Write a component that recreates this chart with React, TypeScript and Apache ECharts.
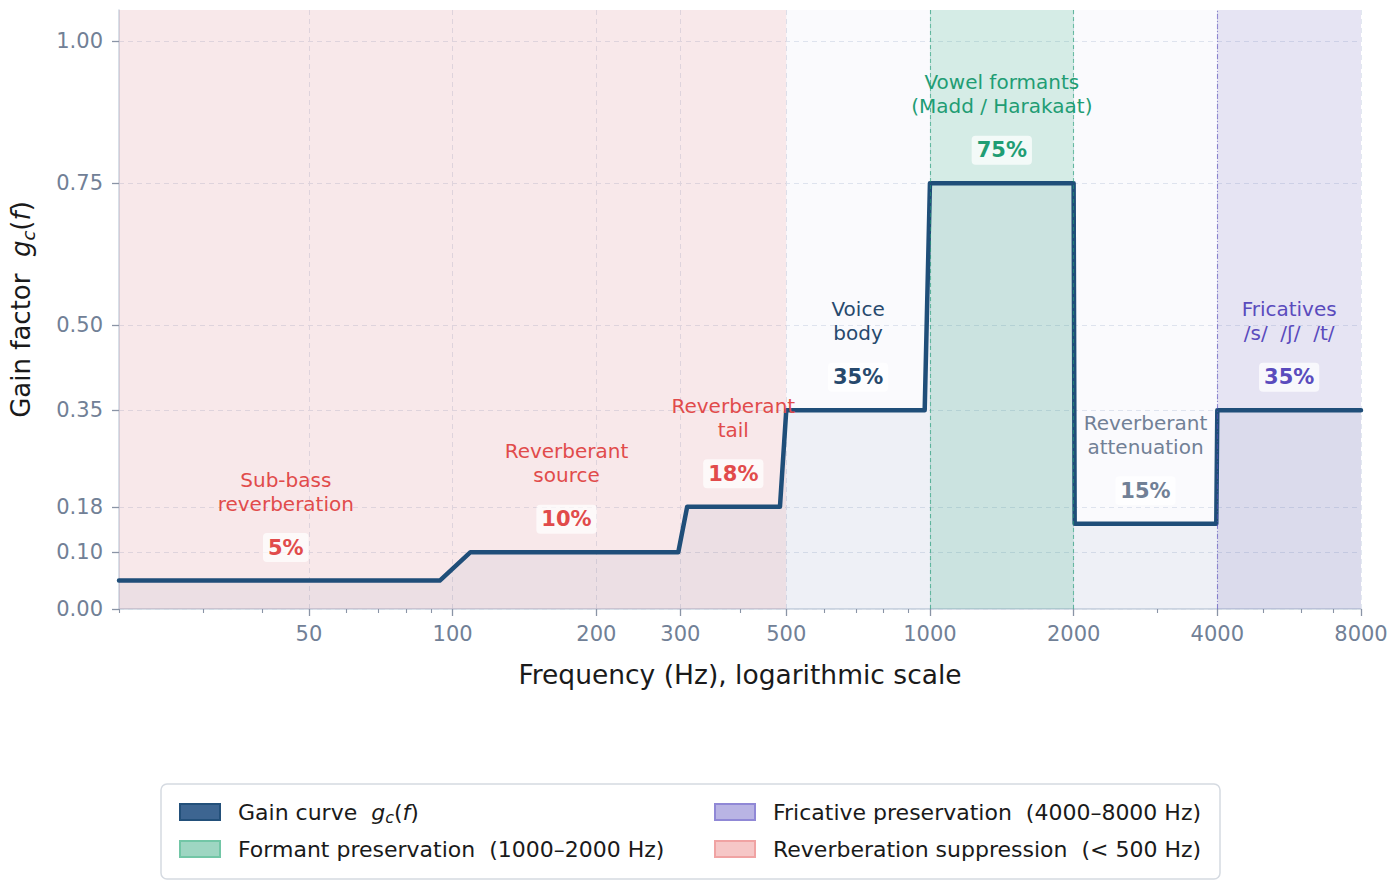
import React, { useEffect, useRef } from 'react';
import * as echarts from 'echarts';

// ---- data ----
const gainFreq = [20, 94, 109, 297, 310, 485, 500, 975, 1000, 2000, 2010, 3980, 4000, 8000];
const gainValue = [0.05, 0.05, 0.10, 0.10, 0.18, 0.18, 0.35, 0.35, 0.75, 0.75, 0.15, 0.15, 0.35, 0.35];

const majorTicks = [50, 100, 200, 300, 500, 1000, 2000, 4000, 8000];
const minorTicks = [20, 30, 40, 60, 70, 80, 90, 400, 600, 700, 800, 900, 3000, 5000, 6000, 7000];
const yTicks = [0, 0.10, 0.18, 0.35, 0.50, 0.75, 1.00];

const bandEdges = [20, 100, 300, 500, 1000, 2000, 4000, 8000];
const annoLevel = [0.05, 0.10, 0.18, 0.35, 0.75, 0.15, 0.35];
const annoTitle = [
  'Sub-bass\nreverberation',
  'Reverberant\nsource',
  'Reverberant\ntail',
  'Voice\nbody',
  'Vowel formants\n(Madd / Harakaat)',
  'Reverberant\nattenuation',
  'Fricatives\n/s/  /ʃ/  /t/',
];
const annoTone = ['red', 'red', 'red', 'navy', 'green', 'gray', 'purple'];

const F_MIN = 20;
const F_MAX = 8000;
const Y_MAX = 1.055;

const NAME_GAIN = 'Gain curve';
const NAME_FORMANT = 'Formant preservation  (1000–2000 Hz)';
const NAME_FRIC = 'Fricative preservation  (4000–8000 Hz)';
const NAME_REVERB = 'Reverberation suppression  (< 500 Hz)';

// ---- styles ----
const FONT = 'DejaVu Sans';
const toneColor: Record<string, string> = {
  red: '#e14b4b',
  navy: '#27496d',
  green: '#1f9d74',
  gray: '#718096',
  purple: '#5a4bbd',
};

export default function App() {
  const ref = useRef<HTMLDivElement>(null);

  useEffect(() => {
    if (!ref.current) return;
    const chart = echarts.init(ref.current, undefined, { renderer: 'svg' });

    const annoFreq = annoLevel.map((_, i) => Math.sqrt(bandEdges[i] * bandEdges[i + 1]));

    const richText = (size: number, lh: number, sub: number, subLh: number) => ({
      n: { fontFamily: FONT, fontSize: size, color: '#1a1a1a', lineHeight: lh },
      i: { fontFamily: FONT, fontSize: size, color: '#1a1a1a', fontStyle: 'italic', lineHeight: lh },
      s: {
        fontFamily: FONT,
        fontSize: sub,
        color: '#1a1a1a',
        fontStyle: 'italic',
        lineHeight: subLh,
        verticalAlign: 'bottom',
      },
    });

    const legendFormatter = (name: string) =>
      name === NAME_GAIN ? `{n|${name}  }{i|g}{s|c}{n|(}{i|f}{n|)}` : `{n|${name}}`;

    const legendBase = {
      orient: 'vertical',
      top: 799,
      itemWidth: 40,
      itemHeight: 16,
      itemGap: 11,
      padding: 0,
      selectedMode: false,
      icon: 'rect',
      formatter: legendFormatter,
      textStyle: {
        fontFamily: FONT,
        fontSize: 22,
        color: '#1a1a1a',
        lineHeight: 26,
        padding: [0, 0, 0, 13],
        rich: richText(22, 26, 16, 12),
      },
    };

    const option: any = {
      animation: false,
      backgroundColor: '#ffffff',
      textStyle: { fontFamily: FONT },
      grid: { left: 117, right: 35, top: 10, bottom: 280, containLabel: false },
      graphic: [
        {
          type: 'rect',
          z: 0,
          shape: { x: 161, y: 784, width: 1059, height: 95, r: 6 },
          style: { fill: '#ffffff', stroke: '#d5dae1', lineWidth: 1.5 },
        },
      ],
      legend: [
        { ...legendBase, left: 179, data: [NAME_GAIN, NAME_FORMANT] },
        { ...legendBase, left: 714, data: [NAME_FRIC, NAME_REVERB] },
      ],
      xAxis: [
        {
          type: 'log',
          logBase: 10,
          min: F_MIN,
          max: F_MAX,
          position: 'bottom',
          axisLine: { show: true, onZero: false, lineStyle: { color: '#cbd5e0', width: 1.5 } },
          axisTick: { show: false },
          axisLabel: { show: false },
          splitLine: { show: false },
          minorTick: { show: false },
          minorSplitLine: { show: false },
          name: 'Frequency (Hz), logarithmic scale',
          nameLocation: 'middle',
          nameGap: 52,
          nameTextStyle: { fontFamily: FONT, fontSize: 26.5, color: '#1a1a1a' },
        },
        {
          type: 'value',
          min: Math.log10(F_MIN),
          max: Math.log10(F_MAX),
          position: 'bottom',
          axisLine: { show: false, onZero: false },
          axisTick: {
            show: true,
            customValues: majorTicks.map(Math.log10),
            length: 7,
            lineStyle: { color: '#8a94a6', width: 1.3 },
          },
          axisLabel: {
            show: true,
            customValues: majorTicks.map(Math.log10),
            formatter: (v: number) => String(Math.round(Math.pow(10, v))),
            color: '#718096',
            fontFamily: FONT,
            fontSize: 21,
            margin: 14,
          },
          splitLine: { show: true, lineStyle: { color: '#e2e8f0', type: [5, 4], width: 1 } },
        },
        {
          type: 'value',
          min: Math.log10(F_MIN),
          max: Math.log10(F_MAX),
          position: 'bottom',
          axisLine: { show: false, onZero: false },
          axisTick: {
            show: true,
            customValues: minorTicks.map(Math.log10),
            length: 4,
            lineStyle: { color: '#8a94a6', width: 1.1 },
          },
          axisLabel: { show: false },
          splitLine: { show: false },
        },
      ],
      yAxis: {
        type: 'value',
        min: 0,
        max: Y_MAX,
        axisLine: { show: true, onZero: false, lineStyle: { color: '#cbd5e0', width: 1.5 } },
        axisTick: {
          show: true,
          customValues: yTicks,
          length: 7,
          lineStyle: { color: '#8a94a6', width: 1.3 },
        },
        axisLabel: {
          show: true,
          customValues: yTicks,
          formatter: (v: number) => v.toFixed(2),
          color: '#718096',
          fontFamily: FONT,
          fontSize: 21,
          margin: 16,
        },
        splitLine: { show: true, lineStyle: { color: '#e2e8f0', type: [5, 4], width: 1 } },
        name: '{n|Gain factor  }{i|g}{s|c}{n|(}{i|f}{n|)}',
        nameLocation: 'middle',
        nameGap: 82,
        nameTextStyle: { rich: richText(26, 32, 18, 16) },
      },
      series: [
        {
          type: 'scatter',
          name: NAME_REVERB,
          data: [],
          z: 1,
          itemStyle: { color: '#f6c7c7', borderColor: '#f0a3a3', borderWidth: 1.5, opacity: 1 },
          markArea: {
            silent: true,
            itemStyle: { color: 'rgba(185,25,45,0.10)', opacity: 1 },
            data: [[{ xAxis: F_MIN }, { xAxis: 500 }]],
          },
        },
        {
          type: 'scatter',
          name: 'neutral',
          data: [],
          z: 1,
          markArea: {
            silent: true,
            itemStyle: { color: 'rgba(115,135,195,0.04)', opacity: 1 },
            data: [
              [{ xAxis: 500 }, { xAxis: 1000 }],
              [{ xAxis: 2000 }, { xAxis: 4000 }],
            ],
          },
        },
        {
          type: 'scatter',
          name: NAME_FORMANT,
          data: [],
          z: 1,
          itemStyle: { color: '#9ed6c2', borderColor: '#72c6a6', borderWidth: 1.5, opacity: 1 },
          markArea: {
            silent: true,
            itemStyle: { color: 'rgba(22,149,116,0.18)', opacity: 1 },
            data: [[{ xAxis: 1000 }, { xAxis: 2000 }]],
          },
          markLine: {
            silent: true,
            symbol: ['none', 'none'],
            label: { show: false },
            lineStyle: { color: 'rgba(31,157,116,0.6)', type: [4, 3], width: 1.1 },
            data: [{ xAxis: 1000 }, { xAxis: 2000 }],
          },
        },
        {
          type: 'scatter',
          name: NAME_FRIC,
          data: [],
          z: 1,
          itemStyle: { color: '#b9b4e4', borderColor: '#9088d6', borderWidth: 1.5, opacity: 1 },
          markArea: {
            silent: true,
            itemStyle: { color: 'rgba(88,75,175,0.15)', opacity: 1 },
            data: [[{ xAxis: 4000 }, { xAxis: F_MAX }]],
          },
          markLine: {
            silent: true,
            symbol: ['none', 'none'],
            label: { show: false },
            lineStyle: { color: 'rgba(90,75,189,0.6)', type: [5, 2, 1, 2], width: 1.1 },
            data: [{ xAxis: 4000 }],
          },
        },
        {
          type: 'scatter',
          name: NAME_GAIN,
          data: [],
          itemStyle: { color: '#3d6591', borderColor: '#23507a', borderWidth: 1.5, opacity: 1 },
        },
        {
          type: 'line',
          name: 'gain-line',
          z: 3,
          symbol: 'none',
          data: gainFreq.map((f, i) => [f, gainValue[i]]),
          lineStyle: { color: '#1f4e79', width: 4.5, cap: 'round', join: 'round' },
          areaStyle: { color: 'rgba(31,78,121,0.08)', origin: 'start' },
        },
        {
          type: 'scatter',
          name: 'anno-title',
          z: 5,
          symbolSize: 1,
          itemStyle: { color: 'rgba(0,0,0,0)', opacity: 1 },
          silent: true,
          data: annoFreq.map((f, i) => ({
            value: [f, annoLevel[i]],
            label: { color: toneColor[annoTone[i]] },
          })),
          label: {
            show: true,
            position: 'inside',
            offset: [0, -89],
            formatter: (p: any) => annoTitle[p.dataIndex],
            fontFamily: FONT,
            fontSize: 20,
            lineHeight: 24,
            align: 'center',
            verticalAlign: 'middle',
          },
        },
        {
          type: 'scatter',
          name: 'anno-pct',
          z: 6,
          symbolSize: 1,
          itemStyle: { color: 'rgba(0,0,0,0)', opacity: 1 },
          silent: true,
          data: annoFreq.map((f, i) => ({
            value: [f, annoLevel[i]],
            label: { color: toneColor[annoTone[i]] },
          })),
          label: {
            show: true,
            position: 'inside',
            offset: [0, -33],
            formatter: (p: any) => `${Math.round(annoLevel[p.dataIndex] * 100)}%`,
            fontFamily: FONT,
            fontSize: 21,
            fontWeight: 'bold',
            lineHeight: 22,
            align: 'center',
            verticalAlign: 'middle',
            backgroundColor: 'rgba(255,255,255,0.72)',
            borderRadius: 4,
            padding: [4, 5, 3, 5],
          },
        },
      ],
    };

    chart.setOption(option);
    return () => {
      chart.dispose();
    };
  }, []);

  return (
    <div
      ref={ref}
      style={{ position: 'fixed', left: 0, top: 0, width: 1396, height: 889 }}
    />
  );
}
